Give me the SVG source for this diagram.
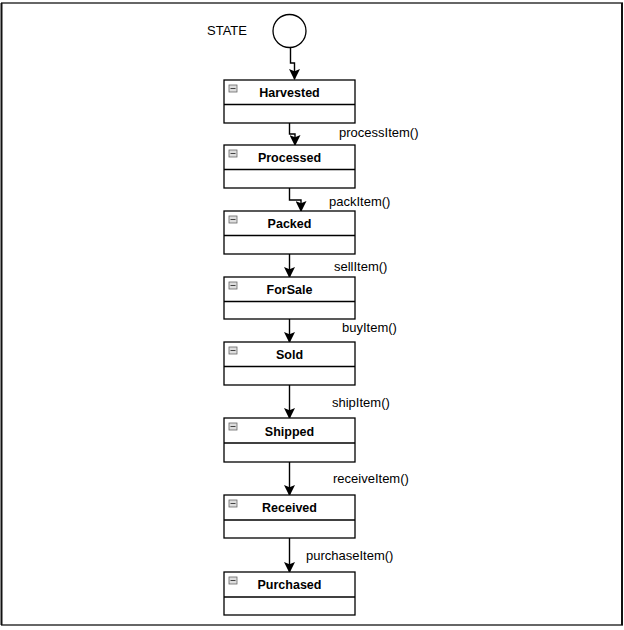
<svg xmlns="http://www.w3.org/2000/svg" width="624" height="630" viewBox="0 0 624 630">
<defs>
<style>
.box{fill:#fff;stroke:#000;stroke-width:1.3}
.title{font-family:"Liberation Sans",Arial,sans-serif;font-size:12.5px;font-weight:bold;fill:#000;text-anchor:middle}
.lbl{font-family:"Liberation Sans",Arial,sans-serif;font-size:13px;fill:#000}
.edge{fill:none;stroke:#000;stroke-width:1.4}
.icon{fill:#ddd;stroke:#666;stroke-width:0.8}
</style>
<marker id="arr" viewBox="0 0 10 10" refX="9" refY="5" markerWidth="11" markerHeight="11" markerUnits="userSpaceOnUse" orient="auto">
<path d="M0,0 L10,5 L0,10 L2,5 Z" fill="#000"/>
</marker>
<g id="icon">
<rect class="icon" x="0" y="0" width="8" height="7"/>
<line x1="1.5" y1="3.5" x2="6.5" y2="3.5" stroke="#444" stroke-width="1"/>
</g>
</defs>
<rect width="624" height="630" fill="#fff"/>
<g id="frame">
<line x1="1" y1="3" x2="623" y2="3" stroke="#666" stroke-width="2"/>
<line x1="1" y1="625" x2="623" y2="625" stroke="#666" stroke-width="2"/>
<line x1="1.5" y1="3" x2="1.5" y2="625" stroke="#111" stroke-width="2"/>
<line x1="622" y1="3" x2="622" y2="625" stroke="#111" stroke-width="2"/>
</g>
<g id="start">
<circle cx="289.5" cy="31" r="16.5" fill="#fff" stroke="#000" stroke-width="1.3"/>
<text class="lbl" x="207" y="35">STATE</text>
</g>
<g id="connectors">
<path class="edge" d="M290.5,47.5 V63 H294.5 V79" marker-end="url(#arr)"/>
<path class="edge" d="M289.5,123 V134 H295 V145" marker-end="url(#arr)"/>
<path class="edge" d="M289.5,188 V200 H301 V211" marker-end="url(#arr)"/>
<path class="edge" d="M289.5,254 V277" marker-end="url(#arr)"/>
<path class="edge" d="M289.5,319 V342" marker-end="url(#arr)"/>
<path class="edge" d="M289.5,385 V418" marker-end="url(#arr)"/>
<path class="edge" d="M289.5,462 V495" marker-end="url(#arr)"/>
<path class="edge" d="M289.5,538 V572" marker-end="url(#arr)"/>
<text class="lbl" x="339" y="137">processItem()</text>
<text class="lbl" x="329" y="206">packItem()</text>
<text class="lbl" x="334" y="271">sellItem()</text>
<text class="lbl" x="342" y="332">buyItem()</text>
<text class="lbl" x="332" y="407">shipItem()</text>
<text class="lbl" x="333" y="483">receiveItem()</text>
<text class="lbl" x="306" y="560">purchaseItem()</text>
</g>
<g id="harvested">
<rect class="box" x="224" y="80" width="131" height="43"/>
<line class="box" x1="224" y1="104.5" x2="355" y2="104.5"/>
<use href="#icon" x="229" y="85"/>
<text class="title" x="289.5" y="97">Harvested</text>
</g>
<g id="processed">
<rect class="box" x="224" y="145" width="131" height="43"/>
<line class="box" x1="224" y1="169.5" x2="355" y2="169.5"/>
<use href="#icon" x="229" y="150"/>
<text class="title" x="289.5" y="162">Processed</text>
</g>
<g id="packed">
<rect class="box" x="224" y="211" width="131" height="43"/>
<line class="box" x1="224" y1="235.5" x2="355" y2="235.5"/>
<use href="#icon" x="229" y="216"/>
<text class="title" x="289.5" y="228">Packed</text>
</g>
<g id="forsale">
<rect class="box" x="224" y="277" width="131" height="42"/>
<line class="box" x1="224" y1="301.5" x2="355" y2="301.5"/>
<use href="#icon" x="229" y="282"/>
<text class="title" x="289.5" y="294">ForSale</text>
</g>
<g id="sold">
<rect class="box" x="224" y="342" width="131" height="43"/>
<line class="box" x1="224" y1="366.5" x2="355" y2="366.5"/>
<use href="#icon" x="229" y="347"/>
<text class="title" x="289.5" y="359">Sold</text>
</g>
<g id="shipped">
<rect class="box" x="224" y="418" width="131" height="44"/>
<line class="box" x1="224" y1="443" x2="355" y2="443"/>
<use href="#icon" x="229" y="423"/>
<text class="title" x="289.5" y="436">Shipped</text>
</g>
<g id="received">
<rect class="box" x="224" y="495" width="131" height="43"/>
<line class="box" x1="224" y1="520" x2="355" y2="520"/>
<use href="#icon" x="229" y="500"/>
<text class="title" x="289.5" y="512">Received</text>
</g>
<g id="purchased">
<rect class="box" x="224" y="572" width="131" height="43"/>
<line class="box" x1="224" y1="597" x2="355" y2="597"/>
<use href="#icon" x="229" y="577"/>
<text class="title" x="289.5" y="589">Purchased</text>
</g>
</svg>
